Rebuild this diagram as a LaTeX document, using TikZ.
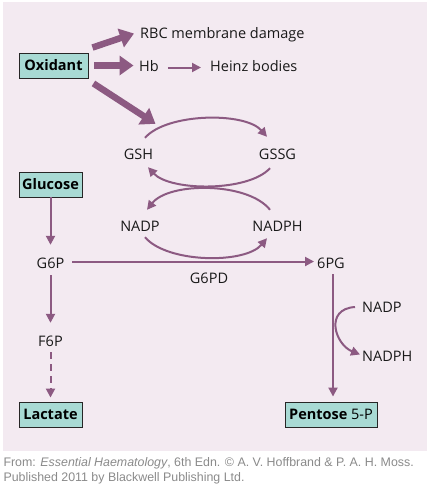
\documentclass[tikz,border=0pt]{standalone}
\usepackage{fontspec}
\setmainfont{Open Sans}
\newfontfamily\creditfont{Liberation Sans}
\usetikzlibrary{arrows.meta}
\definecolor{panelbg}{HTML}{F3EAF1}
\definecolor{arrowcol}{HTML}{8C5A82}
\definecolor{boxfill}{HTML}{A8DAD4}
\definecolor{creditgray}{HTML}{8A8A8A}

\begin{document}
\begin{tikzpicture}[x=1pt,y=1pt,
    lbl/.style={inner sep=0pt,text height=10pt,text depth=3pt,font=\fontsize{14.5}{16}\selectfont,text=black!90},
    box/.style={draw=black!85,line width=0.9pt,fill=boxfill,minimum height=25pt,inner sep=0pt,font=\fontsize{14.5}{16}\selectfont\bfseries},
    fat/.style={arrowcol,line width=6.5pt,-{Triangle[length=14pt,width=19pt]}},
    flow/.style={arrowcol,line width=2pt,-{Triangle[length=9pt,width=9pt]}}]
        \useasboundingbox (0,0) rectangle (430,-501);
        \fill[panelbg] (3,-2) rectangle (427,-451);
        % boxes
        \node[box,minimum width=69pt] (oxid) at (53.5,-65.5) {Oxidant};
        \node[box,minimum width=63pt] (gluc) at (50.5,-184.5) {Glucose};
        \node[box,minimum width=63pt] (lact) at (50.5,-414.5) {Lactate};
        \node[box,minimum width=92pt] (pent) at (331,-414.5) {Pentose \mdseries 5-P};
        % labels
        \node[lbl,anchor=west] (rbc) at (140,-34.5) {RBC membrane damage};
        \node[lbl] (hb) at (149,-67.5) {Hb};
        \node[lbl,anchor=west] (heinz) at (210,-67.5) {Heinz bodies};
        \node[lbl] (gsh) at (138.5,-155.5) {GSH};
        \node[lbl] (gssg) at (277.5,-155.5) {GSSG};
        \node[lbl] (nadpa) at (140,-227.5) {NADP};
        \node[lbl] (nadpha) at (277.5,-227.5) {NADPH};
        \node[lbl] (g6p) at (50.5,-264.5) {G6P};
        \node[lbl] (pg) at (331,-264.5) {6PG};
        \node[lbl] (g6pd) at (209,-279.5) {G6PD};
        \node[lbl] (f6p) at (50.5,-342.5) {F6P};
        \node[lbl,anchor=west] (nadpb) at (362,-308.5) {NADP};
        \node[lbl,anchor=west] (nadphb) at (362,-357.5) {NADPH};
        % oxidant
        \draw[fat] ([xshift=4pt,yshift=5pt]oxid.north east) -- ([xshift=-6pt,yshift=1pt]rbc.west);
        \draw[fat,shorten <=6pt] (oxid.east) -- ([xshift=-5.5pt]oxid.east -| hb.west);
        \draw[fat] ([xshift=5pt,yshift=-5pt]oxid.south east) -- ([xshift=17pt,yshift=25pt]gsh.north);
        \draw[flow,shorten <=9pt,shorten >=9pt] (hb.east) -- (heinz.west);
        % glutathione cycle
        \draw[flow] ([xshift=6.5pt,yshift=11pt]gsh.north) .. controls +(22,25) and +(-22,25) .. ([xshift=-10.5pt,yshift=12pt]gssg.north);
        \draw[flow] ([xshift=-7.5pt,yshift=-6pt]gssg.south) .. controls +(-22,-24) and +(22,-24) .. ([xshift=9.5pt,yshift=-5pt]gsh.south);
        \draw[flow] ([xshift=-7.5pt,yshift=11pt]nadpha.north) .. controls +(-22,28) and +(22,28) .. ([xshift=7pt,yshift=11pt]nadpa.north);
        \draw[flow] ([xshift=5pt,yshift=-3pt]nadpa.south) .. controls +(22,-26) and +(-22,-26) .. ([xshift=-10.5pt,yshift=-4pt]nadpha.south);
        % glycolysis
        \draw[flow,shorten >=13pt] (gluc.south) -- (g6p.north);
        \draw[flow,shorten <=8pt,shorten >=3pt] ([yshift=3pt]g6p.east) -- ([yshift=3pt]pg.west);
        \draw[flow,shorten <=4pt,shorten >=13pt] (g6p.south) -- (f6p.north);
        \draw[flow,dash pattern=on 7pt off 5pt,shorten <=3pt,shorten >=4pt] (f6p.south) -- (lact.north);
        \draw[flow,shorten <=3pt,shorten >=5pt] ([xshift=2pt]pg.south) -- ([xshift=2pt]pg.south |- pent.north);
        \draw[flow] ([xshift=-7pt,yshift=1.5pt]nadpb.west) .. controls +(-31,-2) and +(-25,10) .. ([xshift=-2pt,yshift=3pt]nadphb.west);
        % credit
        \node[anchor=base west,inner sep=0pt,align=left,text=creditgray,font=\creditfont\fontsize{12.4}{15}\selectfont] (credit) at (3.3,-481) {From: \emph{Essential Haematology}, 6th Edn. © A. V. Hoffbrand \& P. A. H. Moss.\\Published 2011 by Blackwell Publishing Ltd.};
    \end{tikzpicture}
\end{document}
